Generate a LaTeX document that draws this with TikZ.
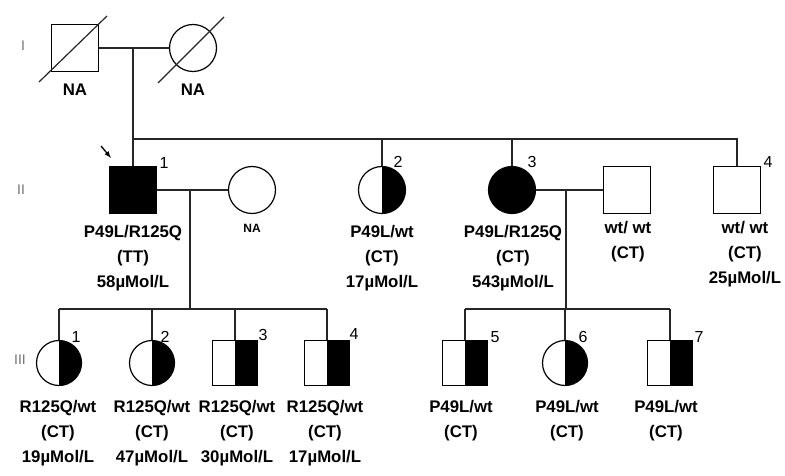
\documentclass[tikz,border=0pt]{standalone}
\usepackage{fontspec}
\setmainfont{Liberation Sans}

\tikzset{
  male/.style={draw, line width=1.2pt, minimum size=47pt, inner sep=0pt},
  female/.style={draw, circle, line width=1.2pt, minimum size=47pt, inner sep=0pt},
  kid/.style={minimum size=45pt},
  affected/.style={fill=black},
  carrier/.style={path picture={\fill[black] (path picture bounding box.north) rectangle (path picture bounding box.south east);}},
  lbl/.style={font=\bfseries\fontsize{16.8}{25}\selectfont, align=center, inner sep=0pt},
  num/.style={font=\fontsize{16}{16}\selectfont, inner sep=0pt},
  gen/.style={font=\fontsize{14}{14}\selectfont, text=black!55, inner sep=0pt},
  line/.style={line width=1.2pt, black!85}
}

\begin{document}
\begin{tikzpicture}[x=1pt, y=-1pt]

\useasboundingbox (0,0) rectangle (785,476);

% generations
\node[gen] (gI) at (23,46) {I};
\node[gen] (gII) at (21,190) {II};
\node[gen] (gIII) at (20,360) {III};

% generation I
\node[male] (i1) at (75,48) {};
\node[female] (i2) at (193,48) {};
\draw[line] ([shift={(-36,34)}]i1.center) -- ([shift={(32,-32)}]i1.center);
\draw[line] ([shift={(-35,35)}]i2.center) -- ([shift={(31,-31)}]i2.center);
\node[lbl] (i1l) at (75,90) {NA};
\node[lbl] (i2l) at (193,90) {NA};

\coordinate (m1) at (133,48);
\coordinate (s1) at (133,139);
\draw[line] (i1.east) -- (i2.west);
\draw[line] (m1) -- (s1);

% generation II
\node[male, affected] (ii1) at (133,190) {};
\node[female] (ii1w) at (252,190) {};
\node[female, carrier] (ii2) at (382,190) {};
\node[female, affected] (ii3) at (512,190) {};
\node[male] (ii3h) at (627,190) {};
\node[male] (ii4) at (737,190) {};

\draw[line] (s1) -- (s1 -| ii4) -- (ii4.north);
\draw[line] (s1) -- (ii1.north);
\draw[line] (ii2.north) -- (ii2.north |- s1);
\draw[line] (ii3.north) -- (ii3.north |- s1);

\node[num] (ii1n) at ([shift={(31,-27)}]ii1.center) {1};
\node[num] (ii2n) at ([shift={(16,-28)}]ii2.center) {2};
\node[num] (ii3n) at ([shift={(20,-28)}]ii3.center) {3};
\node[num] (ii4n) at ([shift={(31,-28)}]ii4.center) {4};

\coordinate (arr) at (101,146);
\draw[-latex, line width=1.3pt] (arr) -- ([shift={(2,-8)}]ii1.north west);

\node[lbl, anchor=north] (ii1l) at (133,225) {P49L/R125Q\\(TT)\\58µMol/L};
\node[lbl, font=\bfseries\fontsize{12}{12}\selectfont] (ii1wl) at (252,228) {NA};
\node[lbl, anchor=north] (ii2l) at (382,225) {P49L/wt\\(CT)\\17µMol/L};
\node[lbl, anchor=north] (ii3l) at (513,225) {P49L/R125Q\\(CT)\\543µMol/L};
\node[lbl, anchor=north] (ii3hl) at (628,221) {wt/ wt\\(CT)};
\node[lbl, anchor=north] (ii4l) at (745,221) {wt/ wt\\(CT)\\25µMol/L};

% generation III, left
\coordinate (m2) at (190,190);
\coordinate (s2) at (190,309);
\draw[line] (ii1.east) -- (ii1w.west);
\draw[line] (m2) -- (s2);

\node[female, kid, carrier] (iii1) at (59,363) {};
\node[female, kid, carrier] (iii2) at (152,363) {};
\node[male, kid, carrier] (iii3) at (235,363) {};
\node[male, kid, carrier] (iii4) at (327,363) {};

\draw[line] (iii1.north |- s2) -- (iii4.north |- s2);
\foreach \k in {iii1,iii2,iii3,iii4}
  \draw[line] (\k.north) -- (\k.north |- s2);

\node[num] (iii1n) at ([shift={(17,-26)}]iii1.center) {1};
\node[num] (iii2n) at ([shift={(13,-26)}]iii2.center) {2};
\node[num] (iii3n) at ([shift={(28,-28)}]iii3.center) {3};
\node[num] (iii4n) at ([shift={(27,-29)}]iii4.center) {4};

\node[lbl, anchor=north] (iii1l) at (58,400) {R125Q/wt\\(CT)\\19µMol/L};
\node[lbl, anchor=north] (iii2l) at (152,400) {R125Q/wt\\(CT)\\47µMol/L};
\node[lbl, anchor=north] (iii3l) at (237,400) {R125Q/wt\\(CT)\\30µMol/L};
\node[lbl, anchor=north] (iii4l) at (325,400) {R125Q/wt\\(CT)\\17µMol/L};

% generation III, right
\coordinate (m3) at (566,190);
\coordinate (s3) at (566,309);
\draw[line] (ii3.east) -- (ii3h.west);
\draw[line] (m3) -- (s3);

\node[male, kid, carrier] (iii5) at (465,363) {};
\node[female, kid, carrier] (iii6) at (565,363) {};
\node[male, kid, carrier] (iii7) at (670,363) {};

\draw[line] (iii5.north |- s3) -- (iii7.north |- s3);
\foreach \k in {iii5,iii6,iii7}
  \draw[line] (\k.north) -- (\k.north |- s3);

\node[num] (iii5n) at ([shift={(30,-26)}]iii5.center) {5};
\node[num] (iii6n) at ([shift={(18,-26)}]iii6.center) {6};
\node[num] (iii7n) at ([shift={(29,-26)}]iii7.center) {7};

\node[lbl, anchor=north] (iii5l) at (461,400) {P49L/wt\\(CT)};
\node[lbl, anchor=north] (iii6l) at (567,400) {P49L/wt\\(CT)};
\node[lbl, anchor=north] (iii7l) at (666,400) {P49L/wt\\(CT)};

\end{tikzpicture}
\end{document}
